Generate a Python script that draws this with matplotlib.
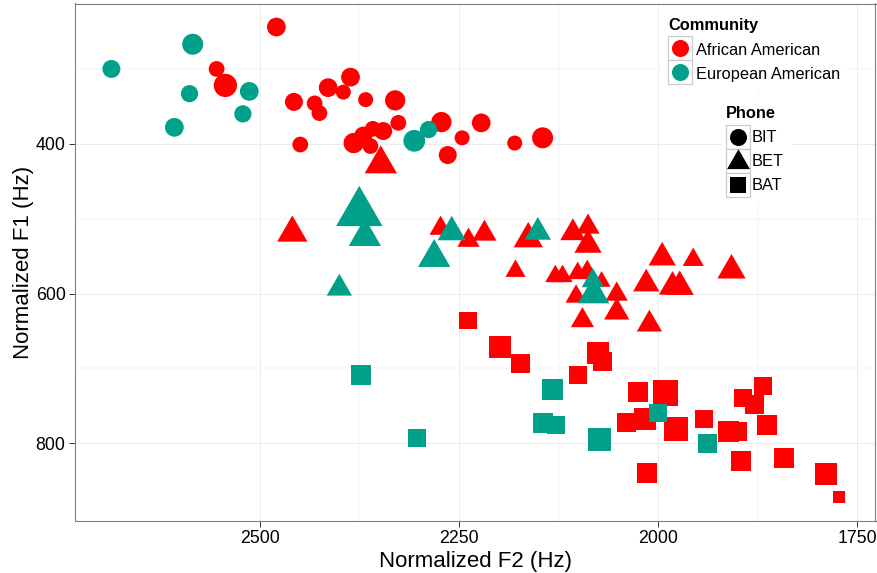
import numpy as np
import matplotlib
matplotlib.use("Agg")
import matplotlib.pyplot as plt
from matplotlib.patches import Rectangle
from matplotlib.path import Path

plt.rcParams['font.family'] = ['Liberation Sans', 'DejaVu Sans']

# ---------------- data ----------------
communities = ["African American", "European American"]
phones = ["BIT", "BET", "BAT"]
community_colors = ["#FF0000", "#00A08A"]

# African American
aa_bit_f2 = [2479, 2554, 2543, 2457, 2449, 2386, 2414, 2395, 2431, 2425, 2367, 2330,
             2326, 2382, 2370, 2358, 2345, 2361, 2272, 2264, 2246, 2222, 2180, 2145]
aa_bit_f1 = [244, 300, 322, 344, 401, 311, 325, 331, 346, 359, 341, 342,
             372, 399, 389, 380, 383, 403, 371, 415, 392, 372, 399, 392]
aa_bit_n = [25, 21, 31, 24, 21, 25, 25, 20, 21, 21, 20, 27,
            21, 27, 24, 21, 24, 21, 27, 24, 20, 25, 20, 28]

aa_bet_f2 = [2459, 2348, 2273, 2238, 2218, 2163, 2107, 2088, 2088, 2179, 2129, 2120, 2101,
             2089, 2071, 2103, 2052, 2052, 2095, 2011, 1995, 1956, 2015, 1982, 1973, 1908]
aa_bet_f1 = [519, 427, 513, 529, 520, 527, 519, 511, 535, 570, 577, 577, 573,
             571, 584, 604, 601, 625, 636, 641, 552, 555, 587, 591, 591, 569]
aa_bet_n = [30, 32, 22, 22, 24, 29, 25, 23, 27, 20, 20, 20, 20,
            21, 18, 21, 22, 25, 23, 25, 27, 21, 26, 27, 28, 28]

aa_bat_f2 = [2239, 2198, 2173, 2101, 2076, 2070, 2025, 1991, 2017, 2040, 1978, 1943,
             1912, 1901, 1893, 1879, 1868, 1863, 1896, 1842, 1790, 1773, 2014]
aa_bat_f1 = [636, 672, 693, 709, 679, 691, 732, 733, 767, 772, 781, 768,
             784, 784, 740, 748, 724, 776, 824, 820, 841, 872, 840]
aa_bat_n = [27, 33, 29, 27, 33, 29, 30, 38, 33, 29, 36, 27,
            32, 29, 27, 29, 27, 30, 30, 30, 33, 18, 30]

# European American
ea_bit_f2 = [2686, 2584, 2588, 2513, 2521, 2607, 2306, 2288]
ea_bit_f1 = [300, 267, 333, 330, 360, 378, 396, 381]
ea_bit_n = [24, 28, 23, 25, 23, 25, 29, 23]

ea_bet_f2 = [2375, 2368, 2400, 2281, 2259, 2151, 2082, 2081]
ea_bet_f1 = [492, 524, 593, 552, 518, 518, 583, 601]
ea_bet_n = [46, 32, 25, 32, 28, 26, 22, 31]

ea_bat_f2 = [2373, 2133, 2144, 2128, 2302, 2074, 2000, 1938]
ea_bat_f1 = [709, 728, 773, 776, 793, 795, 759, 800]
ea_bat_n = [30, 32, 30, 27, 27, 35, 27, 29]

x_major = [2500, 2250, 2000, 1750]
x_minor = [2375, 2125, 1875]
y_major = [400, 600, 800]
y_minor = [300, 500, 700]

# ---------------- figure ----------------
W, H = 878, 573
fig = plt.figure(figsize=(W / 100, H / 100), dpi=100)
ax = fig.add_axes([75 / W, 1 - 520.7 / H, (875.5 - 75) / W, (520.7 - 3.5) / H])

tri_path = Path([(0, 1), (-0.8660, -0.5), (0.8660, -0.5), (0, 1)], closed=True)
PX2PT = 0.72
# size factors: marker size (pt) per unit of the size variable
shape_info = {
    "BIT": ("o", 0.75 * PX2PT),
    "BET": (tri_path, 1.01 / 0.866 * PX2PT),
    "BAT": ("s", 0.665 * PX2PT),
}

groups = [
    (0, "BIT", aa_bit_f2, aa_bit_f1, aa_bit_n),
    (0, "BET", aa_bet_f2, aa_bet_f1, aa_bet_n),
    (0, "BAT", aa_bat_f2, aa_bat_f1, aa_bat_n),
    (1, "BIT", ea_bit_f2, ea_bit_f1, ea_bit_n),
    (1, "BET", ea_bet_f2, ea_bet_f1, ea_bet_n),
    (1, "BAT", ea_bat_f2, ea_bat_f1, ea_bat_n),
]
for ci, ph, f2, f1, n in groups:
    marker, k = shape_info[ph]
    s = (np.asarray(n, float) * k) ** 2
    ax.scatter(f2, f1, s=s, marker=marker, c=community_colors[ci],
               linewidths=0, edgecolors='none', zorder=3)

all_f2 = np.concatenate([g[2] for g in groups])
all_f1 = np.concatenate([g[3] for g in groups])
xr = all_f2.max() - all_f2.min()
yr = all_f1.max() - all_f1.min()
ax.set_xlim(all_f2.max() + 0.05 * xr, all_f2.min() - 0.05 * xr)
ax.set_ylim(all_f1.max() + 0.05 * yr, all_f1.min() - 0.05 * yr)

ax.set_xticks(x_major)
ax.set_xticks(x_minor, minor=True)
ax.set_yticks(y_major)
ax.set_yticks(y_minor, minor=True)
ax.set_axisbelow(True)
ax.grid(which='major', color='#EBEBEB', linewidth=0.7)
ax.grid(which='minor', color='#F7F7F7', linewidth=1.2)
ax.tick_params(which='minor', length=0)
ax.tick_params(which='major', length=4.3, width=0.7, color='#333333',
               labelsize=12.8, labelcolor='black', pad=2.5)
for sp in ax.spines.values():
    sp.set_color('#7F7F7F')
    sp.set_linewidth(0.8)

ax.set_xlabel("Normalized F2 (Hz)", fontsize=16, labelpad=3)
ax.set_ylabel("Normalized F1 (Hz)", fontsize=16, labelpad=1.5)

# ---------------- legends (pixel overlay) ----------------
ov = fig.add_axes([0, 0, 1, 1], zorder=5)
ov.set_xlim(0, W)
ov.set_ylim(H, 0)
ov.axis('off')
ov.patch.set_alpha(0)

def bg(x0, y0, x1, y1):
    ov.add_patch(Rectangle((x0, y0), x1 - x0, y1 - y0, facecolor='white',
                           edgecolor='none', zorder=1))

def key(x0, y0):
    ov.add_patch(Rectangle((x0, y0), 24, 24, facecolor='white',
                           edgecolor='#CCCCCC', linewidth=0.9, zorder=2))

leg_n = 22.7
bg(661, 9, 845, 90)
ov.text(668, 30, "Community", fontsize=11.8, fontweight='bold', ha='left',
        va='baseline', zorder=4)
for i, name in enumerate(communities):
    y0 = 36 + 24 * i
    key(668, y0)
    ov.scatter([680], [y0 + 12], s=(leg_n * shape_info["BIT"][1]) ** 2, marker='o',
               c=community_colors[i], linewidths=0, zorder=3)
    ov.text(696, y0 + 19, name, fontsize=11.8, ha='left', va='baseline', zorder=4)

bg(721, 98, 792, 202)
ov.text(726, 118.5, "Phone", fontsize=11.8, fontweight='bold', ha='left',
        va='baseline', zorder=4)
for i, ph in enumerate(phones):
    y0 = 124.5 + 24 * i
    key(726, y0)
    marker, k = shape_info[ph]
    yc = y0 + 12 + (1.5 if ph == "BET" else 0)
    ov.scatter([738], [yc], s=(leg_n * k) ** 2, marker=marker, c='black',
               linewidths=0, zorder=3)
    ov.text(752, y0 + 17.5, ph, fontsize=11.8, ha='left', va='baseline', zorder=4)

fig.savefig("out.png", dpi=100)
